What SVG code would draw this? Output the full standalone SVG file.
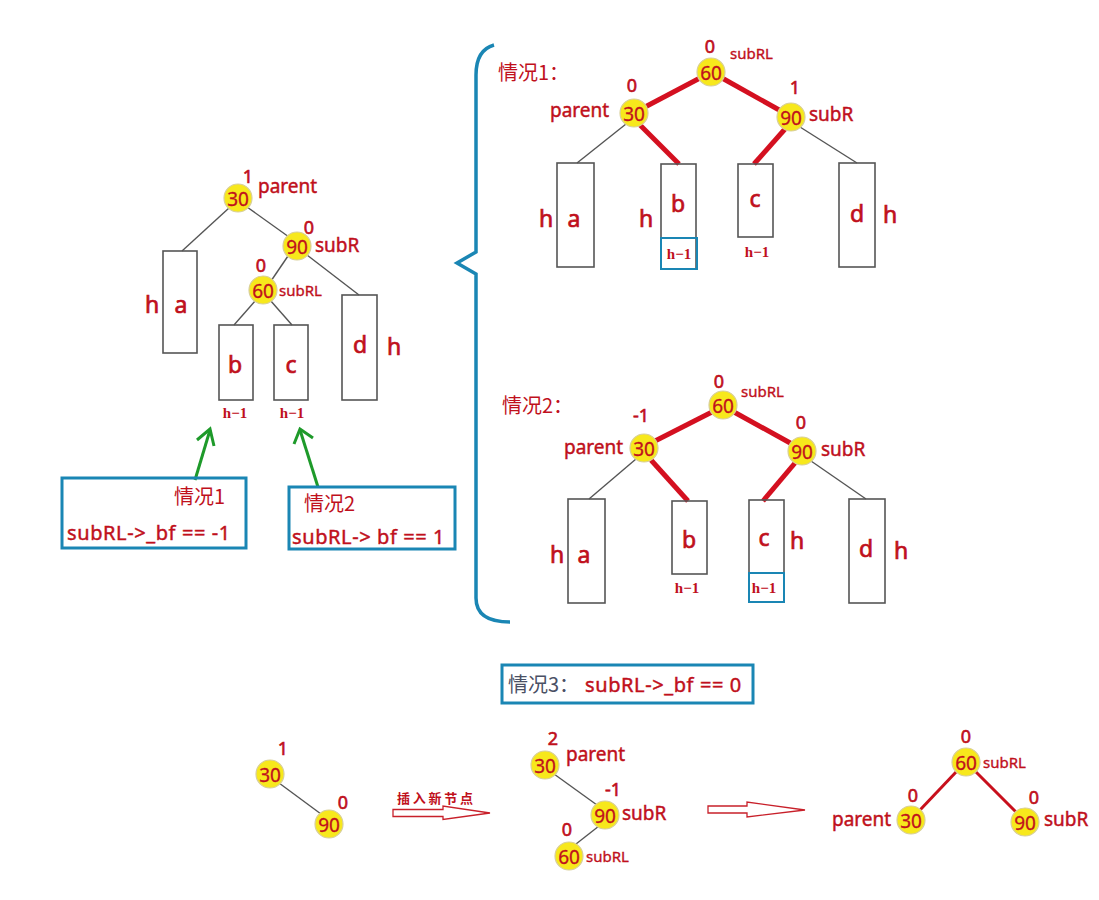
<svg xmlns="http://www.w3.org/2000/svg" width="1099" height="900" viewBox="0 0 1099 900">
<style>
.bg{fill:#ffffff}
.nd{fill:#f7e81c;stroke:#d8cf9a;stroke-width:1.2}
.nt{font-family:"Noto Sans","Noto Sans CJK SC",sans-serif;font-size:19px;fill:#c0101c;stroke:#c0101c;stroke-width:0.3;text-anchor:middle;dominant-baseline:central}
.lb{font-family:"Noto Sans","Noto Sans CJK SC",sans-serif;font-size:19px;fill:#c0101c;stroke:#c0101c;stroke-width:0.45}
.cond{font-family:"Noto Sans","Noto Sans CJK SC",sans-serif;font-size:20px;letter-spacing:0.6px;fill:#c0101c;stroke:#c0101c;stroke-width:0.45}
.lbs{font-family:"Noto Sans","Noto Sans CJK SC",sans-serif;font-size:15px;fill:#c0101c;stroke:#c0101c;stroke-width:0.35}
.bf{font-family:"Noto Sans",sans-serif;font-size:18px;fill:#c0101c;stroke:#c0101c;stroke-width:0.6;text-anchor:middle}
.big{font-family:"Noto Sans",sans-serif;font-size:23px;fill:#c0101c;stroke:#c0101c;stroke-width:0.7;text-anchor:middle}
.hm{font-family:"Liberation Serif",serif;font-size:15px;font-weight:bold;fill:#c0101c;text-anchor:middle}
.cn{font-family:"Noto Sans CJK SC",sans-serif;font-size:20px;fill:#c0101c}
.box{fill:none;stroke:#555;stroke-width:1.6}
.blue{fill:none;stroke:#1a86b4;stroke-width:3}
.bluet{fill:none;stroke:#1a86b4;stroke-width:2}
.gl{stroke:#555;stroke-width:1.4;fill:none}
.rl{stroke:#d41020;stroke-width:5;fill:none;stroke-linecap:butt}
.rlm{stroke:#c8101c;stroke-width:3;fill:none}
.grn{stroke:#1e9a2a;stroke-width:3;fill:none}
.ha{fill:#fff;stroke:#c8202a;stroke-width:1.3}
</style>
<rect class="bg" x="0" y="0" width="1099" height="900"/>

<g id="connectors">
  <!-- left tree -->
  <line class="gl" x1="229" y1="208" x2="182" y2="251"/>
  <line class="gl" x1="247" y1="207" x2="289" y2="237"/>
  <line class="gl" x1="288" y1="256" x2="271" y2="281"/>
  <line class="gl" x1="307" y1="255" x2="359" y2="295"/>
  <line class="gl" x1="256" y1="300" x2="234" y2="325"/>
  <line class="gl" x1="270" y1="300" x2="292" y2="325"/>
  <!-- green arrows -->
  <line class="grn" x1="195" y1="480" x2="210" y2="430"/>
  <polyline class="grn" points="197,440 210,429 214,446"/>
  <line class="grn" x1="318" y1="487" x2="300" y2="430"/>
  <polyline class="grn" points="294,444 300,429 313,438"/>
  <!-- case 1 -->
  <line class="rl" x1="700" y1="78" x2="645" y2="107"/>
  <line class="rl" x1="722" y1="78" x2="781" y2="111"/>
  <line class="rl" x1="640" y1="125" x2="679" y2="164"/>
  <line class="rl" x1="785" y1="129" x2="754" y2="164"/>
  <line class="gl" x1="626" y1="124" x2="577" y2="163"/>
  <line class="gl" x1="800" y1="127" x2="857" y2="163"/>
  <!-- case 2 -->
  <line class="rl" x1="712" y1="412" x2="655" y2="441"/>
  <line class="rl" x1="734" y1="412" x2="792" y2="444"/>
  <line class="rl" x1="651" y1="460" x2="688" y2="501"/>
  <line class="rl" x1="795" y1="463" x2="763" y2="501"/>
  <line class="gl" x1="636" y1="459" x2="589" y2="499"/>
  <line class="gl" x1="811" y1="461" x2="866" y2="499"/>
  <!-- bottom -->
  <line class="gl" x1="279" y1="783" x2="321" y2="814"/>
  <line class="gl" x1="554" y1="774" x2="597" y2="805"/>
  <line class="gl" x1="599" y1="826" x2="576" y2="844"/>
  <line class="rlm" x1="957" y1="771" x2="920" y2="810"/>
  <line class="rlm" x1="975" y1="771" x2="1016" y2="812"/>
  <!-- hollow arrows -->
  <polygon class="ha" points="393,809.5 443,809.5 443,806 490,813 443,819.5 443,816.5 393,816.5"/>
  <polygon class="ha" points="708,806 747,806 747,802 805,810 747,817 747,813 708,813"/>
  <!-- brace -->
  <path d="M494,45 Q476,50 476,75 L476,252 L457,263 L476,274 L476,598 Q476,622 510,622" fill="none" stroke="#1a86b4" stroke-width="3.5" stroke-linejoin="miter"/>
</g>

<!-- left tree -->
<g id="L30"><circle class="nd" cx="238" cy="198" r="14"/><text class="nt" x="238" y="199">30</text>
  <text class="bf" x="248" y="183">1</text><text class="lb" x="258" y="193">parent</text></g>
<g id="L90"><circle class="nd" cx="297" cy="246" r="14"/><text class="nt" x="297" y="247">90</text>
  <text class="bf" x="309" y="234">0</text><text class="lb" x="315" y="252">subR</text></g>
<g id="L60"><circle class="nd" cx="263" cy="290" r="14"/><text class="nt" x="263" y="291">60</text>
  <text class="bf" x="261" y="272">0</text><text class="lbs" x="279" y="296">subRL</text></g>
<g id="La"><rect class="box" x="163" y="251" width="34" height="102"/><text class="big" x="181" y="313">a</text><text class="big" x="152" y="313">h</text></g>
<g id="Lb"><rect class="box" x="219" y="325" width="34" height="75"/><text class="big" x="235" y="373">b</text><text class="hm" x="235" y="418">h−1</text></g>
<g id="Lc"><rect class="box" x="274" y="325" width="34" height="75"/><text class="big" x="291" y="373">c</text><text class="hm" x="292" y="418">h−1</text></g>
<g id="Ld"><rect class="box" x="342" y="295" width="35" height="105"/><text class="big" x="360" y="353">d</text><text class="big" x="394" y="355">h</text></g>

<g id="case1box"><rect class="blue" x="62" y="478" width="184" height="70"/>
  <text class="cn" x="174" y="504">情况1</text>
  <text class="cond" x="67" y="540">subRL-&gt;_bf == -1</text></g>
<g id="case2box"><rect class="blue" x="289" y="487" width="166" height="62"/>
  <text class="cn" x="304" y="511">情况2</text>
  <text class="cond" x="292" y="544">subRL-&gt; bf == 1</text></g>

<!-- case 1 -->
<g id="c1title"><text class="cn" x="498" y="80">情况1：</text></g>
<g id="C1_60"><circle class="nd" cx="711" cy="72" r="14"/><text class="nt" x="711" y="73">60</text>
  <text class="bf" x="710" y="53">0</text><text class="lbs" x="730" y="59">subRL</text></g>
<g id="C1_30"><circle class="nd" cx="634" cy="113" r="14"/><text class="nt" x="634" y="114">30</text>
  <text class="bf" x="632" y="92">0</text><text class="lb" x="550" y="117">parent</text></g>
<g id="C1_90"><circle class="nd" cx="791" cy="117" r="14"/><text class="nt" x="791" y="118">90</text>
  <text class="bf" x="795" y="94">1</text><text class="lb" x="809" y="121">subR</text></g>
<g id="C1a"><rect class="box" x="557" y="163" width="37" height="104"/><text class="big" x="574" y="227">a</text><text class="big" x="546" y="227">h</text></g>
<g id="C1b"><rect class="box" x="661" y="164" width="35" height="105"/><rect class="bluet" x="661" y="238" width="36" height="31"/>
  <text class="big" x="678" y="212">b</text><text class="big" x="646" y="227">h</text><text class="hm" x="679" y="259">h−1</text></g>
<g id="C1c"><rect class="box" x="738" y="164" width="35" height="73"/><text class="big" x="755" y="207">c</text><text class="hm" x="757" y="257">h−1</text></g>
<g id="C1d"><rect class="box" x="839" y="163" width="36" height="104"/><text class="big" x="857" y="222">d</text><text class="big" x="890" y="223">h</text></g>

<!-- case 2 -->
<g id="c2title"><text class="cn" x="502" y="413">情况2：</text></g>
<g id="C2_60"><circle class="nd" cx="723" cy="405" r="14"/><text class="nt" x="723" y="406">60</text>
  <text class="bf" x="719" y="388">0</text><text class="lbs" x="741" y="397">subRL</text></g>
<g id="C2_30"><circle class="nd" cx="644" cy="448" r="14"/><text class="nt" x="644" y="449">30</text>
  <text class="bf" x="641" y="422">-1</text><text class="lb" x="564" y="454">parent</text></g>
<g id="C2_90"><circle class="nd" cx="802" cy="451" r="14"/><text class="nt" x="802" y="452">90</text>
  <text class="bf" x="801" y="429">0</text><text class="lb" x="821" y="456">subR</text></g>
<g id="C2a"><rect class="box" x="568" y="499" width="37" height="104"/><text class="big" x="584" y="563">a</text><text class="big" x="557" y="563">h</text></g>
<g id="C2b"><rect class="box" x="672" y="501" width="35" height="73"/><text class="big" x="689" y="548">b</text><text class="hm" x="687" y="593">h−1</text></g>
<g id="C2c"><rect class="box" x="749" y="500" width="35" height="102"/><rect class="bluet" x="749" y="573" width="35" height="29"/>
  <text class="big" x="764" y="546">c</text><text class="big" x="797" y="549">h</text><text class="hm" x="764" y="593">h−1</text></g>
<g id="C2d"><rect class="box" x="849" y="499" width="36" height="104"/><text class="big" x="866" y="557">d</text><text class="big" x="901" y="559">h</text></g>

<!-- case 3 -->
<g id="case3box"><rect class="blue" x="502" y="665" width="251" height="38"/>
  <text x="508" y="692" font-family="Noto Sans CJK SC,sans-serif" font-size="20" fill="#4a5064">情况3：</text>
  <text class="cond" x="585" y="692">subRL-&gt;_bf == 0</text></g>

<g id="B30a"><circle class="nd" cx="270" cy="774" r="14"/><text class="nt" x="270" y="775">30</text><text class="bf" x="283" y="755">1</text></g>
<g id="B90a"><circle class="nd" cx="329" cy="824" r="14"/><text class="nt" x="329" y="825">90</text><text class="bf" x="343" y="809">0</text></g>
<g id="insertLabel"><text x="397" y="803" font-family="Noto Sans CJK SC,sans-serif" font-size="13" font-weight="bold" fill="#c0101c" textLength="76" lengthAdjust="spacing">插入新节点</text></g>

<g id="M30"><circle class="nd" cx="545" cy="765" r="14"/><text class="nt" x="545" y="766">30</text>
  <text class="bf" x="553" y="745">2</text><text class="lb" x="566" y="761">parent</text></g>
<g id="M90"><circle class="nd" cx="605" cy="815" r="14"/><text class="nt" x="605" y="816">90</text>
  <text class="bf" x="613" y="796">-1</text><text class="lb" x="622" y="820">subR</text></g>
<g id="M60"><circle class="nd" cx="569" cy="856" r="14"/><text class="nt" x="569" y="857">60</text>
  <text class="bf" x="567" y="836">0</text><text class="lbs" x="586" y="862">subRL</text></g>

<g id="R60"><circle class="nd" cx="966" cy="762" r="14"/><text class="nt" x="966" y="763">60</text>
  <text class="bf" x="966" y="743">0</text><text class="lbs" x="983" y="768">subRL</text></g>
<g id="R30"><circle class="nd" cx="911" cy="820" r="14"/><text class="nt" x="911" y="821">30</text>
  <text class="bf" x="913" y="802">0</text><text class="lb" x="832" y="826">parent</text></g>
<g id="R90"><circle class="nd" cx="1025" cy="822" r="14"/><text class="nt" x="1025" y="823">90</text>
  <text class="bf" x="1034" y="804">0</text><text class="lb" x="1044" y="826">subR</text></g>
</svg>
